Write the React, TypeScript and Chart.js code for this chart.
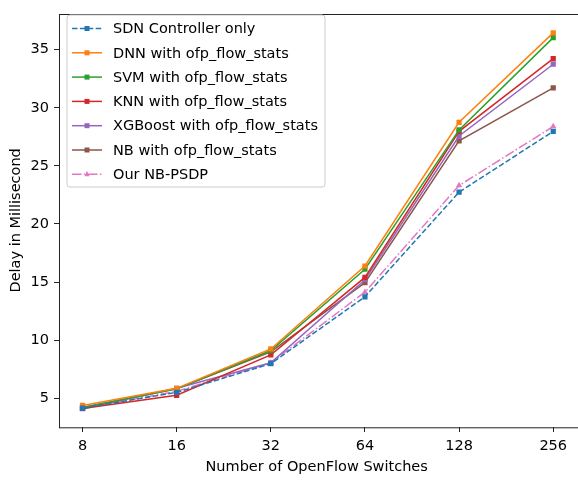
import React, { useEffect, useRef } from "react";
import { Chart, registerables } from "chart.js";

Chart.register(...registerables);

const categories = ["8", "16", "32", "64", "128", "256"];
const seriesNames = [
  "SDN Controller only",
  "DNN with ofp_flow_stats",
  "SVM with ofp_flow_stats",
  "KNN with ofp_flow_stats",
  "XGBoost with ofp_flow_stats",
  "NB with ofp_flow_stats",
  "Our NB-PSDP",
];
const sdn = [4.15, 5.5, 7.97, 13.73, 22.74, 27.97];
const dnn = [4.38, 5.85, 9.24, 16.38, 28.75, 36.45];
const svm = [4.2, 5.8, 9.1, 16.1, 28.1, 36.04];
const knn = [4.12, 5.25, 8.73, 15.4, 27.97, 34.24];
const xgb = [4.1, 5.85, 8.05, 15.2, 27.57, 33.75];
const nb = [4.2, 5.82, 8.98, 14.95, 27.15, 31.72];
const ours = [4.1, 5.59, 8.05, 14.13, 23.31, 28.39];
const yTicks = [5, 10, 15, 20, 25, 30, 35];

const seriesValues = [sdn, dnn, svm, knn, xgb, nb, ours];
const colors = ["#1f77b4", "#ff7f0e", "#2ca02c", "#d62728", "#9467bd", "#8c564b", "#e377c2"];
const dashes: number[][] = [[5.5, 2.4], [], [], [], [], [], [9.6, 2.4, 1.5, 2.4]];
const markers = ["rect", "rect", "rect", "rect", "rect", "rect", "triangle"];

const FONT = "'DejaVu Sans', sans-serif";
const FS = 14.5;

function drawMarker(ctx: CanvasRenderingContext2D, style: string, x: number, y: number, color: string) {
  ctx.save();
  ctx.fillStyle = color;
  ctx.setLineDash([]);
  if (style === "rect") {
    ctx.fillRect(x - 2.5, y - 2.5, 5, 5);
  } else {
    ctx.beginPath();
    ctx.moveTo(x, y - 3.5);
    ctx.lineTo(x + 2.5, y + 2);
    ctx.lineTo(x - 2.5, y + 2);
    ctx.closePath();
    ctx.fill();
  }
  ctx.restore();
}

const framePlugin = {
  id: "frameLegend",
  afterDraw(chart: any) {
    const ctx: CanvasRenderingContext2D = chart.ctx;
    const a = chart.chartArea;
    ctx.save();
    ctx.strokeStyle = "#222";
    ctx.lineWidth = 1;
    ctx.setLineDash([]);
    ctx.strokeRect(Math.round(a.left) + 0.5, Math.round(a.top) + 0.5, a.right - a.left + 5, a.bottom - a.top);
    // legend
    const lx = 67, ly = 15, lw = 258, lh = 172, r = 3;
    ctx.beginPath();
    ctx.moveTo(lx + r, ly);
    ctx.lineTo(lx + lw - r, ly);
    ctx.quadraticCurveTo(lx + lw, ly, lx + lw, ly + r);
    ctx.lineTo(lx + lw, ly + lh - r);
    ctx.quadraticCurveTo(lx + lw, ly + lh, lx + lw - r, ly + lh);
    ctx.lineTo(lx + r, ly + lh);
    ctx.quadraticCurveTo(lx, ly + lh, lx, ly + lh - r);
    ctx.lineTo(lx, ly + r);
    ctx.quadraticCurveTo(lx, ly, lx + r, ly);
    ctx.closePath();
    ctx.fillStyle = "rgba(255,255,255,0.8)";
    ctx.fill();
    ctx.strokeStyle = "#cccccc";
    ctx.stroke();
    ctx.font = `${FS}px ${FONT}`;
    ctx.textBaseline = "middle";
    ctx.textAlign = "left";
    chart.data.datasets.forEach((ds: any, i: number) => {
      const y = 28.5 + i * 24.3;
      ctx.strokeStyle = colors[i];
      ctx.lineWidth = 1.5;
      ctx.setLineDash(dashes[i]);
      ctx.beginPath();
      ctx.moveTo(72, y);
      ctx.lineTo(102, y);
      ctx.stroke();
      drawMarker(ctx, markers[i], 87, y, colors[i]);
      ctx.fillStyle = "#000";
      ctx.fillText(ds.label, 113, y + 1);
    });
    ctx.restore();
  },
};

export default function App() {
  const ref = useRef<HTMLCanvasElement>(null);
  useEffect(() => {
    if (!ref.current) return;
    const chart = new Chart(ref.current, {
      type: "line",
      data: {
        datasets: seriesValues.map((vals, i) => ({
          label: seriesNames[i],
          data: vals.map((v, j) => ({ x: j, y: v })),
          borderColor: colors[i],
          backgroundColor: colors[i],
          borderWidth: 1.5,
          borderDash: dashes[i],
          pointStyle: markers[i] as any,
          pointRadius: 3.7,
          pointBorderWidth: 0,
          pointHoverRadius: 3.7,
          tension: 0,
          fill: false,
        })),
      },
      options: {
        animation: false,
        responsive: false,
        events: [],
        layout: { padding: { top: 6, left: 0, right: 0, bottom: 0 } },
        plugins: { legend: { display: false }, tooltip: { enabled: false } },
        scales: {
          x: {
            type: "linear",
            min: -0.25,
            max: 5.224,
            afterBuildTicks: (s: any) => {
              s.ticks = categories.map((_, i) => ({ value: i }));
            },
            afterFit: (s: any) => {
              s.height = 53;
            },
            ticks: {
              callback: (v: any) => categories[v as number] ?? "",
              color: "#000",
              font: { family: FONT, size: FS },
              padding: 6,
              maxRotation: 0,
            },
            grid: { drawOnChartArea: false, drawTicks: true, tickLength: 5, tickColor: "#222" },
            border: { display: false },
            title: {
              display: true,
              text: "Number of OpenFlow Switches",
              color: "#000",
              font: { family: FONT, size: FS },
              padding: { top: 0, bottom: 4 },
            },
          },
          y: {
            type: "linear",
            min: 2.52,
            max: 38.1,
            afterBuildTicks: (s: any) => {
              s.ticks = yTicks.map((v) => ({ value: v }));
            },
            afterFit: (s: any) => {
              s.width = 59;
            },
            ticks: {
              color: "#000",
              font: { family: FONT, size: FS },
              padding: 5,
            },
            grid: { drawOnChartArea: false, drawTicks: true, tickLength: 5, tickColor: "#222" },
            border: { display: false },
            title: {
              display: true,
              text: "Delay in Millisecond",
              color: "#000",
              font: { family: FONT, size: FS },
              padding: { top: 8, bottom: 0 },
            },
          },
        },
      },
      plugins: [framePlugin],
    });
    return () => chart.destroy();
  }, []);
  return (
    <div style={{ position: "absolute", left: 0, top: 0, width: 578, height: 480, background: "#fff" }}>
      <canvas ref={ref} width={578} height={480} style={{ width: 578, height: 480 }} />
    </div>
  );
}
